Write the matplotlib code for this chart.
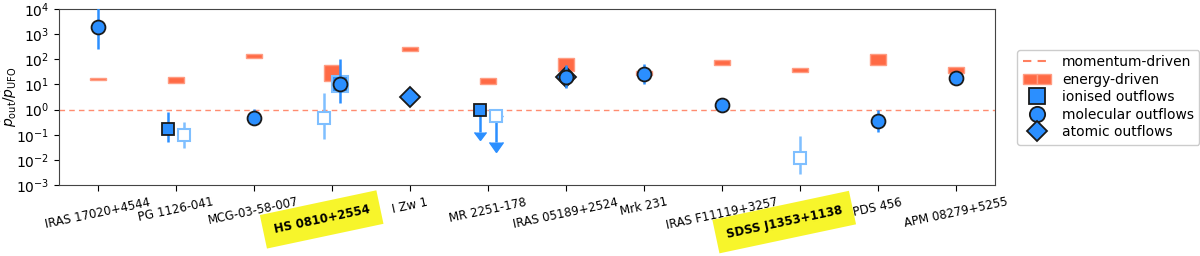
import matplotlib
matplotlib.use("Agg")
import matplotlib.pyplot as plt
import numpy as np
from matplotlib.patches import Patch, Rectangle
from matplotlib.lines import Line2D
from matplotlib.legend_handler import HandlerTuple
import matplotlib.ticker as mticker

# ---------------- data ----------------
sources = ["IRAS 17020+4544", "PG 1126-041", "MCG-03-58-007", "HS 0810+2554",
           "I Zw 1", "MR 2251-178", "IRAS 05189+2524", "Mrk 231",
           "IRAS F11119+3257", "SDSS J1353+1138", "PDS 456", "APM 08279+5255"]
highlighted = ["HS 0810+2554", "SDSS J1353+1138"]

# energy-driven range (low, high)
energy_low = [15.5, 11.8, 110, 13.8, 210, 10.5, 34.6, 23, 62, 31, 60, 29.5]
energy_high = [17.5, 20.4, 160, 60, 295, 17.6, 110, 34.6, 95, 47, 160, 51]

# molecular outflows: (source index, x offset, value, err_low, err_high)
mol_idx = [0, 2, 3, 6, 7, 8, 10, 11]
mol_off = [0.0, 0.0, 0.1, 0.0, 0.0, 0.0, 0.0, 0.0]
mol_val = [2000, 0.48, 10, 19.4, 26, 1.5, 0.35, 18.7]
mol_lo = [250, 0.42, 1.8, 7, 10.5, 1.2, 0.13, 9.5]
mol_hi = [15000, 1.05, 100, 60, 66, 1.9, 0.96, 35]

# ionised outflows, filled (dark edge)
ion_idx = [1, 5]
ion_off = [-0.1, -0.1]
ion_val = [0.164, 0.95]
ion_lo = [0.051, 0.13]
ion_hi = [0.8, 3.3]
ion_uplim = [False, True]

# ionised outflows, open (light)
ion2_idx = [1, 3, 5, 9]
ion2_off = [0.1, -0.1, 0.1, 0.0]
ion2_val = [0.097, 0.48, 0.55, 0.0115]
ion2_lo = [0.029, 0.068, 0.05, 0.0027]
ion2_hi = [0.33, 4.5, 2.2, 0.089]
ion2_uplim = [False, False, True, False]

# ionised (filled, light edge) under the molecular point of HS 0810+2554
ion3_idx = [3]
ion3_off = [0.1]
ion3_val = [10]

# atomic outflows
atom_idx = [4, 6]
atom_val = [3.3, 19.4]

# ---------------- style ----------------
BLUE = "#2b8fff"
LIGHT = "#7fbfff"
CORAL = "#ff6a45"
CORAL_EDGE = "#ff9c82"

fig = plt.figure(figsize=(12, 2.56), dpi=100)
ax = fig.add_axes([0.049, 0.277, 0.78, 0.688])

ax.set_yscale("log")
ax.set_xlim(-0.5, len(sources) - 0.5)
ax.set_ylim(1e-3, 1e4)

# momentum-driven line
ax.axhline(1.0, color="#ff8060", ls=(0, (4, 3)), lw=1.0, zorder=1, alpha=0.9)

# energy-driven boxes
bw = 0.2
for i, (lo, hi) in enumerate(zip(energy_low, energy_high)):
    ax.add_patch(Rectangle((i - bw / 2, lo), bw, hi - lo, facecolor=CORAL,
                           edgecolor=CORAL_EDGE, lw=1, zorder=2))

# open ionised
for i, o, v, lo, hi, ul in zip(ion2_idx, ion2_off, ion2_val, ion2_lo, ion2_hi, ion2_uplim):
    ecol = BLUE if ul else LIGHT
    ax.errorbar(i + o, v, yerr=[[v - lo], [hi - v]], fmt="none",
                color=ecol, ecolor=ecol, elinewidth=1.8,
                capsize=5 if ul else 0, uplims=ul, zorder=4)
    ax.plot(i + o, v, "s", ms=9, mfc="white", mec=LIGHT, mew=1.5, zorder=4.5)

# filled ionised
for i, o, v, lo, hi, ul in zip(ion_idx, ion_off, ion_val, ion_lo, ion_hi, ion_uplim):
    ax.errorbar(i + o, v, yerr=[[v - lo], [hi - v]], fmt="none",
                color=BLUE, ecolor=BLUE, elinewidth=1.8,
                capsize=4 if ul else 0, uplims=ul, zorder=4)
    ax.plot(i + o, v, "s", ms=9, mfc=BLUE, mec="#1a1a1a", mew=1.3, zorder=5)

for i, o, v in zip(ion3_idx, ion3_off, ion3_val):
    ax.plot(i + o, v, "s", ms=11, mfc=BLUE, mec=LIGHT, mew=1.5, zorder=4)

# atomic
for i, v in zip(atom_idx, atom_val):
    ax.plot(i, v, "D", ms=10, mfc=BLUE, mec="#1a1a1a", mew=1.3, zorder=5)

# molecular
for i, o, v, lo, hi in zip(mol_idx, mol_off, mol_val, mol_lo, mol_hi):
    ax.errorbar(i + o, v, yerr=[[v - lo], [hi - v]], fmt="none",
                ecolor=BLUE, elinewidth=1.8, zorder=5)
    ax.plot(i + o, v, "o", ms=10, mfc=BLUE, mec="#1a1a1a", mew=1.3, zorder=6)

# axes formatting
ax.set_yticks([10.0 ** k for k in range(-3, 5)])
ax.yaxis.set_minor_locator(mticker.NullLocator())
ax.tick_params(axis="y", labelsize=10)
ax.set_ylabel(r"$\dot{p}_{\rm out}/\dot{p}_{\rm UFO}$", fontsize=10)
ax.yaxis.set_label_coords(-0.043, 0.5)

ax.set_xticks(range(len(sources)))
labels = [s if s not in highlighted else "" for s in sources]
ax.set_xticklabels(labels, rotation=12, fontsize=8.5)
ax.tick_params(axis="x", length=4)

trans = ax.get_xaxis_transform()
hl_pos = {"HS 0810+2554": (sources.index("HS 0810+2554") - 0.13, -0.195),
          "SDSS J1353+1138": (sources.index("SDSS J1353+1138") - 0.2, -0.21)}
for name in highlighted:
    x, y = hl_pos[name]
    ax.text(x, y, name, transform=trans, rotation=12, ha="center", va="center",
            fontsize=8.5, fontweight="bold",
            bbox=dict(boxstyle="square,pad=0.9", facecolor="#f7f52b", edgecolor="none"))

for sp in ax.spines.values():
    sp.set_color("#444444")

# legend
h_mom = Line2D([], [], color="#ff8060", ls=(0, (4, 3)), lw=1.5)
h_en = (Patch(facecolor=CORAL, edgecolor=CORAL_EDGE), Patch(facecolor=CORAL, edgecolor=CORAL_EDGE))
h_ion = Line2D([], [], ls="none", marker="s", ms=11, mfc=BLUE, mec="#1a1a1a", mew=1.3)
h_mol = Line2D([], [], ls="none", marker="o", ms=11, mfc=BLUE, mec="#1a1a1a", mew=1.3)
h_atom = Line2D([], [], ls="none", marker="D", ms=10, mfc=BLUE, mec="#1a1a1a", mew=1.3)
fig.legend([h_mom, h_en, h_ion, h_mol, h_atom],
           ["momentum-driven", "energy-driven", "ionised outflows",
            "molecular outflows", "atomic outflows"],
           handler_map={tuple: HandlerTuple(ndivide=2, pad=0)},
           loc="center left", bbox_to_anchor=(0.842, 0.62), fontsize=10,
           handlelength=2.0, labelspacing=0.25, borderpad=0.4, framealpha=1)

fig.savefig("out.png", dpi=100)
